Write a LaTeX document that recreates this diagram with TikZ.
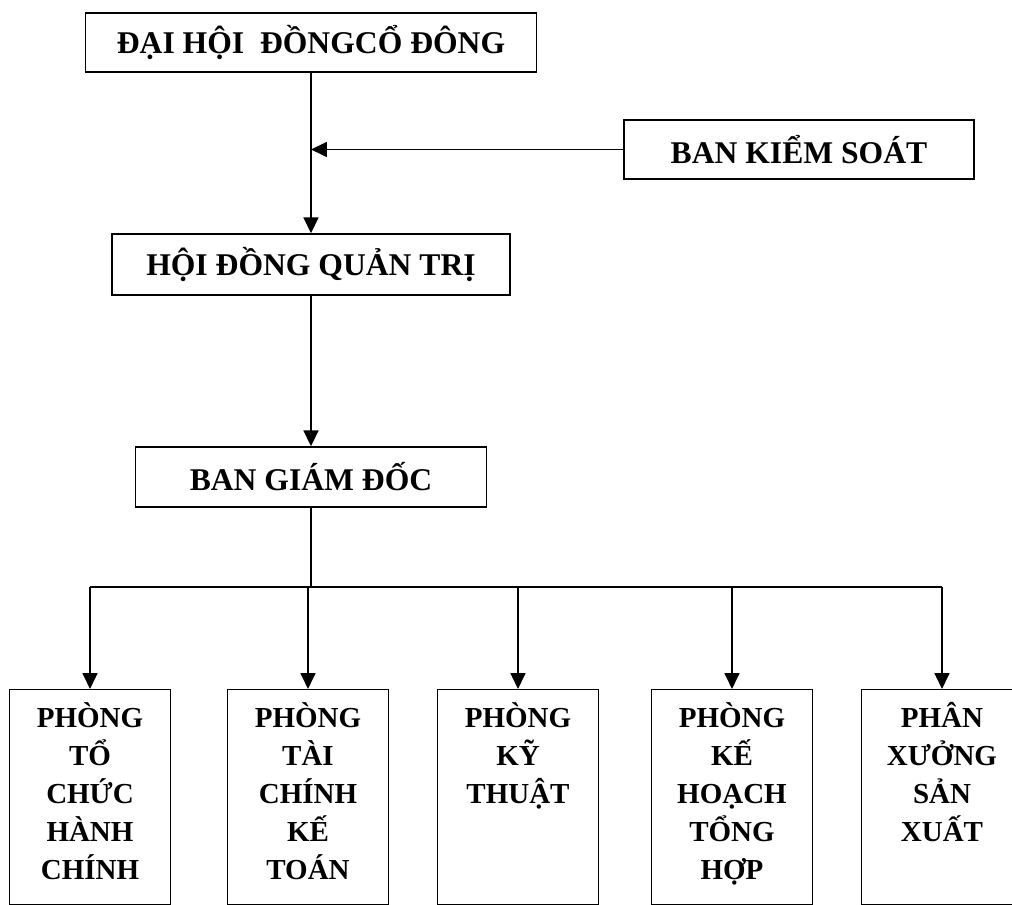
\documentclass[tikz,border=0pt]{standalone}
\usepackage{fontspec}
\setmainfont{Liberation Serif}
\usepackage{tikz}
\usetikzlibrary{arrows.meta}
\usetikzlibrary{positioning}
\tikzset{>={Triangle[width=0.3cm, length=0.32cm]}}
\tikzstyle{unit} = [draw, line width=0.8pt, inner sep=0, font=\fontsize{18}{21.6}\selectfont\bfseries, minimum height=1.2cm]
\tikzstyle{dept} = [draw, line width=0.8pt, inner sep=0, anchor=north, font=\fontsize{16.5}{21.6}\selectfont\bfseries]
\tikzstyle{link} = [line width=1pt]
\newcommand{\deptbox}[1]{\parbox[t][4.3cm][t]{3.22cm}{\centering\rule{0pt}{21.6pt}#1}}

\begin{document}
\begin{tikzpicture}[x=0.02cm, y=-0.02cm]
\useasboundingbox (0, 0) rectangle (1012, 905);
\node [unit, minimum width=9.02cm, minimum height=1.18cm] (DH) at (311, 42.5) {ĐẠI HỘI\ \ ĐỒNGCỔ ĐÔNG};
\node [unit, minimum width=7cm, minimum height=1.18cm] (KS) at (799, 149.5) {BAN KIỂM SOÁT};
\node [unit, minimum width=7.96cm, minimum height=1.22cm] (HQ) at (311, 264.5) {HỘI ĐỒNG QUẢN TRỊ};
\node [unit, minimum width=7.02cm] (GD) at (311, 477) {BAN GIÁM ĐỐC};
\coordinate (B) at (311, 587);
\node [dept] (TC) at (90, 689) {\deptbox{PHÒNG\\TỔ\\CHỨC\\HÀNH\\CHÍNH}};
\node [dept] (TK) at (308, 689) {\deptbox{PHÒNG\\TÀI\\CHÍNH\\KẾ\\TOÁN}};
\node [dept] (KT) at (518, 689) {\deptbox{PHÒNG\\KỸ\\THUẬT}};
\node [dept] (KH) at (732, 689) {\deptbox{PHÒNG\\KẾ\\HOẠCH\\TỔNG\\HỢP}};
\node [dept] (SX) at (942, 689) {\deptbox{PHÂN\\XƯỞNG\\SẢN\\XUẤT}};
\draw [->, link] (DH) to (HQ);
\draw [->, link] (KS.west) to (KS.west -| DH.south);
\draw [->, link] (HQ) to (GD);
\draw [link] (GD) to (B);
\draw [link] (TC.north |- B) to (SX.north |- B);
\foreach \d in {TC, TK, KT, KH, SX}
  \draw [->, link] (\d.north |- B) to (\d.north);
\end{tikzpicture}
\end{document}
